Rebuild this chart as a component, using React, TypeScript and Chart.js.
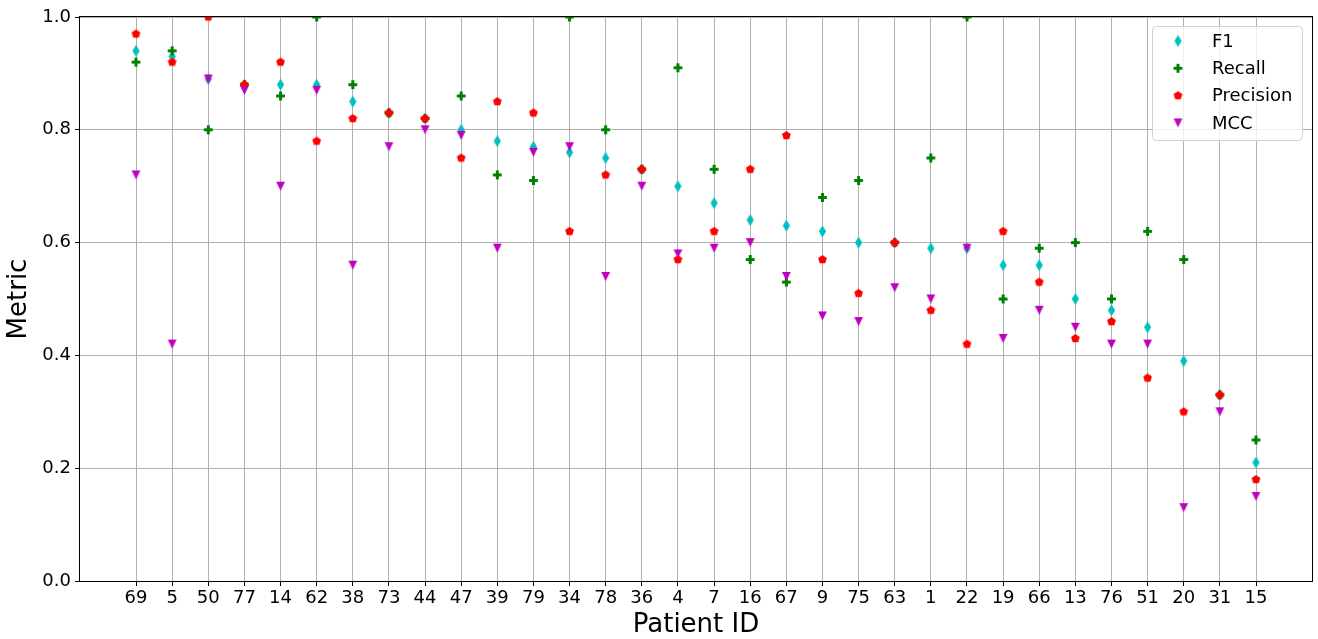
import React, { useEffect, useRef } from "react";
import { Chart, registerables } from "chart.js";

Chart.register(...registerables);

// Patient IDs along the x axis, ordered by F1 score
const PATIENT_IDS = [
  "69", "5", "50", "77", "14", "62", "38", "73", "44", "47", "39", "79", "34", "78", "36", "4",
  "7", "16", "67", "9", "75", "63", "1", "22", "19", "66", "13", "76", "51", "20", "31", "15",
];

const F1 = [
  0.94, 0.93, 0.89, 0.88, 0.88, 0.88, 0.85, 0.83, 0.82, 0.80, 0.78, 0.77, 0.76, 0.75, 0.73, 0.70,
  0.67, 0.64, 0.63, 0.62, 0.60, 0.60, 0.59, 0.59, 0.56, 0.56, 0.50, 0.48, 0.45, 0.39, 0.33, 0.21,
];

const RECALL = [
  0.92, 0.94, 0.80, 0.88, 0.86, 1.00, 0.88, 0.83, 0.82, 0.86, 0.72, 0.71, 1.00, 0.80, 0.73, 0.91,
  0.73, 0.57, 0.53, 0.68, 0.71, 0.60, 0.75, 1.00, 0.50, 0.59, 0.60, 0.50, 0.62, 0.57, 0.33, 0.25,
];

const PRECISION = [
  0.97, 0.92, 1.00, 0.88, 0.92, 0.78, 0.82, 0.83, 0.82, 0.75, 0.85, 0.83, 0.62, 0.72, 0.73, 0.57,
  0.62, 0.73, 0.79, 0.57, 0.51, 0.60, 0.48, 0.42, 0.62, 0.53, 0.43, 0.46, 0.36, 0.30, 0.33, 0.18,
];

const MCC = [
  0.72, 0.42, 0.89, 0.87, 0.70, 0.87, 0.56, 0.77, 0.80, 0.79, 0.59, 0.76, 0.77, 0.54, 0.70, 0.58,
  0.59, 0.60, 0.54, 0.47, 0.46, 0.52, 0.50, 0.59, 0.43, 0.48, 0.45, 0.42, 0.42, 0.13, 0.30, 0.15,
];

const Y_TICKS = [0, 0.2, 0.4, 0.6, 0.8, 1.0];

const FONT = "'DejaVu Sans', sans-serif";

type Shape = "thinDiamond" | "plus" | "pentagon" | "triangleDown";

// Draws a marker glyph onto a small canvas so it can serve as a Chart.js pointStyle
function makeMarker(shape: Shape, color: string): HTMLCanvasElement {
  const S = 15;
  const c = S / 2;
  const cv = document.createElement("canvas");
  cv.width = S;
  cv.height = S;
  const ctx = cv.getContext("2d")!;
  ctx.fillStyle = color;
  ctx.beginPath();
  if (shape === "thinDiamond") {
    ctx.moveTo(c, c - 6);
    ctx.lineTo(c + 3.6, c);
    ctx.lineTo(c, c + 6);
    ctx.lineTo(c - 3.6, c);
  } else if (shape === "plus") {
    const a = 4.4;
    const t = 1.5;
    ctx.moveTo(c - t, c - a);
    ctx.lineTo(c + t, c - a);
    ctx.lineTo(c + t, c - t);
    ctx.lineTo(c + a, c - t);
    ctx.lineTo(c + a, c + t);
    ctx.lineTo(c + t, c + t);
    ctx.lineTo(c + t, c + a);
    ctx.lineTo(c - t, c + a);
    ctx.lineTo(c - t, c + t);
    ctx.lineTo(c - a, c + t);
    ctx.lineTo(c - a, c - t);
    ctx.lineTo(c - t, c - t);
  } else if (shape === "pentagon") {
    const r = 4.6;
    for (let i = 0; i < 5; i++) {
      const ang = -Math.PI / 2 + (i * 2 * Math.PI) / 5;
      const px = c + r * Math.cos(ang);
      const py = c + r * Math.sin(ang);
      if (i === 0) ctx.moveTo(px, py);
      else ctx.lineTo(px, py);
    }
  } else {
    const h = 4.4;
    ctx.moveTo(c - h, c - h);
    ctx.lineTo(c + h, c - h);
    ctx.lineTo(c, c + h);
  }
  ctx.closePath();
  ctx.fill();
  return cv;
}

export default function App() {
  const canvasRef = useRef<HTMLCanvasElement | null>(null);

  useEffect(() => {
    const canvas = canvasRef.current;
    if (!canvas) return;

    const series = [
      { label: "F1", values: F1, color: "#00bfbf", shape: "thinDiamond" as Shape, order: 3 },
      { label: "Recall", values: RECALL, color: "#008000", shape: "plus" as Shape, order: 2 },
      { label: "Precision", values: PRECISION, color: "#ff0000", shape: "pentagon" as Shape, order: 1 },
      { label: "MCC", values: MCC, color: "#bf00bf", shape: "triangleDown" as Shape, order: 0 },
    ];
    const markers = series.map((s) => makeMarker(s.shape, s.color));

    const datasets = series.map((s, k) => ({
      label: s.label,
      data: s.values.map((v, i) => ({ x: i, y: v })),
      pointStyle: markers[k] as any,
      backgroundColor: s.color,
      borderColor: s.color,
      showLine: false,
      order: s.order,
      clip: 0,
    }));

    // Black box around the plotting area
    const framePlugin = {
      id: "frame",
      afterDraw(chart: any) {
        const { ctx, chartArea: a } = chart;
        ctx.save();
        ctx.strokeStyle = "#000000";
        ctx.lineWidth = 1;
        ctx.strokeRect(Math.round(a.left) - 0.5, Math.round(a.top) - 0.5, Math.round(a.right - a.left) + 1, Math.round(a.bottom - a.top) + 1);
        ctx.restore();
      },
    };

    // Legend box in the upper right corner of the plot
    const legendPlugin = {
      id: "cornerLegend",
      afterDraw(chart: any) {
        const { ctx, chartArea: a } = chart;
        const w = 150;
        const h = 114;
        const x = a.right - 10 - w;
        const y = a.top + 9;
        ctx.save();
        ctx.beginPath();
        if (ctx.roundRect) ctx.roundRect(x + 0.5, y + 0.5, w, h, 4);
        else ctx.rect(x + 0.5, y + 0.5, w, h);
        ctx.fillStyle = "rgba(255,255,255,0.8)";
        ctx.fill();
        ctx.strokeStyle = "#d0d0d0";
        ctx.lineWidth = 1;
        ctx.stroke();
        ctx.font = `18px ${FONT}`;
        ctx.fillStyle = "#000000";
        ctx.textAlign = "left";
        ctx.textBaseline = "middle";
        series.forEach((s, k) => {
          const ry = y + 15 + k * 27.3;
          const m = markers[k];
          ctx.drawImage(m, x + 26 - m.width / 2, ry - m.height / 2);
          ctx.fillText(s.label, x + 60, ry + 1);
        });
        ctx.restore();
      },
    };

    const chart = new Chart(canvas, {
      type: "scatter",
      data: { datasets: datasets as any },
      options: {
        responsive: false,
        animation: false,
        devicePixelRatio: 1,
        layout: { padding: { left: 0, right: 6, top: 17, bottom: 0 } },
        plugins: {
          legend: { display: false },
          tooltip: { enabled: false },
        },
        elements: { point: { radius: 5, hoverRadius: 5 } },
        scales: {
          x: {
            type: "linear",
            min: -1.55,
            max: 32.55,
            afterBuildTicks: (scale: any) => {
              scale.ticks = PATIENT_IDS.map((_, i) => ({ value: i }));
            },
            afterFit: (scale: any) => {
              scale.height = 58;
            },
            ticks: {
              autoSkip: false,
              maxRotation: 0,
              minRotation: 0,
              padding: 2,
              color: "#000000",
              font: { family: FONT, size: 18 },
              callback: (v: any) => PATIENT_IDS[Math.round(Number(v))] ?? "",
            },
            grid: { color: "#b0b0b0", tickColor: "#000000", tickLength: 5, lineWidth: 1 },
            border: { display: false },
            title: {
              display: true,
              text: "Patient ID",
              color: "#000000",
              font: { family: FONT, size: 26, lineHeight: 1 },
              padding: { top: 0, bottom: 1 },
            },
          },
          y: {
            type: "linear",
            min: 0,
            max: 1,
            afterBuildTicks: (scale: any) => {
              scale.ticks = Y_TICKS.map((v) => ({ value: v }));
            },
            afterFit: (scale: any) => {
              scale.width = 80;
            },
            ticks: {
              padding: 4,
              color: "#000000",
              font: { family: FONT, size: 18 },
              callback: (v: any) => Number(v).toFixed(1),
            },
            grid: { color: "#b0b0b0", tickColor: "#000000", tickLength: 5, lineWidth: 1 },
            border: { display: false },
            title: {
              display: true,
              text: "Metric",
              color: "#000000",
              font: { family: FONT, size: 26, lineHeight: 1 },
              padding: { top: 6, bottom: 0 },
            },
          },
        },
      },
      plugins: [framePlugin, legendPlugin],
    });

    return () => {
      chart.destroy();
    };
  }, []);

  return (
    <div style={{ position: "fixed", left: 0, top: 0, width: 1318, height: 639, background: "#ffffff" }}>
      <canvas ref={canvasRef} width={1318} height={639} style={{ display: "block" }} />
    </div>
  );
}
